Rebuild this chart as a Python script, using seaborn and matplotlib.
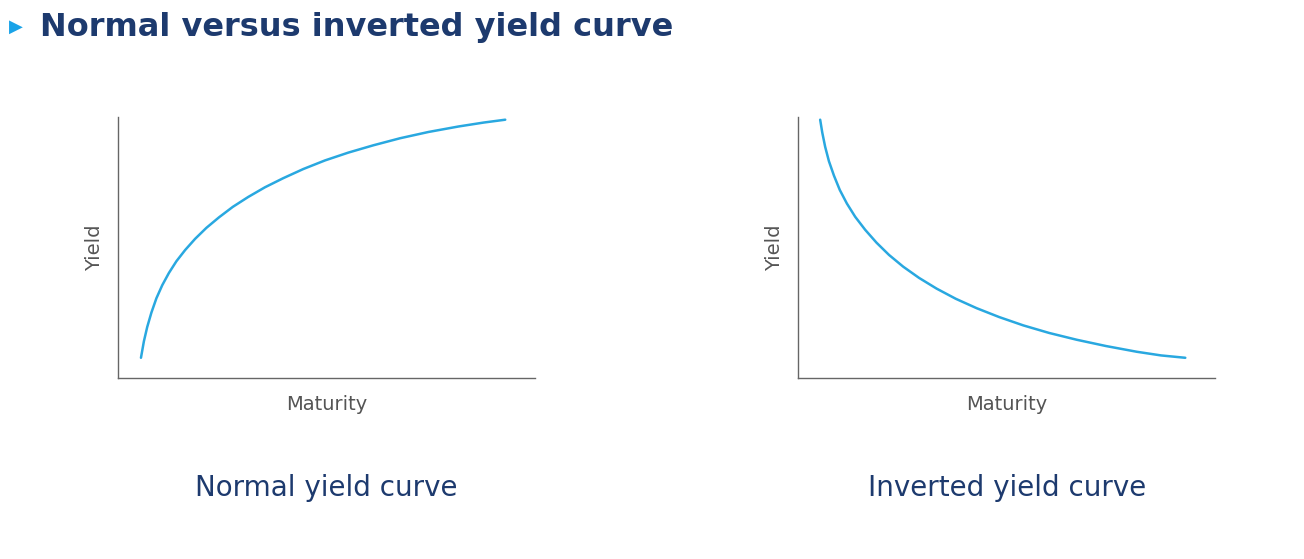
import matplotlib
matplotlib.use('Agg')
import matplotlib.pyplot as plt
import seaborn as sns

# values (0-10 scale on both axes)
normal_x = [0.55, 0.62, 0.70, 0.80, 0.92, 1.06, 1.22, 1.40, 1.61, 1.85, 2.12, 2.42,
            2.75, 3.12, 3.52, 3.96, 4.44, 4.96, 5.52, 6.12, 6.76, 7.44, 8.16, 8.76, 9.28]
normal_y = [0.77, 1.40, 1.95, 2.50, 3.05, 3.55, 4.02, 4.47, 4.90, 5.33, 5.75, 6.15,
            6.55, 6.93, 7.30, 7.65, 8.00, 8.33, 8.63, 8.91, 9.18, 9.42, 9.63, 9.78, 9.89]
inverted_x = [0.53, 0.58, 0.65, 0.74, 0.86, 1.00, 1.17, 1.37, 1.61, 1.88, 2.18, 2.52,
              2.90, 3.32, 3.78, 4.28, 4.82, 5.40, 6.02, 6.68, 7.38, 8.12, 8.70, 9.28]
inverted_y = [9.89, 9.40, 8.85, 8.30, 7.75, 7.20, 6.68, 6.17, 5.67, 5.18, 4.71, 4.26,
              3.83, 3.42, 3.03, 2.67, 2.33, 2.01, 1.72, 1.46, 1.22, 1.00, 0.86, 0.77]
captions = ['Normal yield curve', 'Inverted yield curve']

sns.set_style('white')
navy = '#1d3a6e'
blue = '#29a8e0'
grey = '#555555'

fig = plt.figure(figsize=(13.04, 5.59), dpi=100)
fig.text(0.031, 0.95, 'Normal versus inverted yield curve', fontsize=23, fontweight='bold',
         color=navy, va='center', ha='left', family='DejaVu Sans')
fig.text(0.007, 0.952, '\u25B6', fontsize=13, color='#1aa3e8', va='center', ha='left')

lefts = [0.0905, 0.612]
series = [(normal_x, normal_y), (inverted_x, inverted_y)]
for left, (xs, ys), cap in zip(lefts, series, captions):
    ax = fig.add_axes([left, 0.324, 0.32, 0.467])
    sns.lineplot(x=xs, y=ys, ax=ax, color=blue, linewidth=1.8)
    ax.set_xlim(0, 10)
    ax.set_ylim(0, 10)
    ax.set_xticks([])
    ax.set_yticks([])
    for s in ['top', 'right']:
        ax.spines[s].set_visible(False)
    for s in ['left', 'bottom']:
        ax.spines[s].set_color('#666666')
        ax.spines[s].set_linewidth(1.0)
    ax.set_xlabel('Maturity', fontsize=14, color=grey, labelpad=12)
    ax.set_ylabel('Yield', fontsize=14, color=grey, labelpad=10)
    fig.text(left + 0.16, 0.127, cap, fontsize=20, color=navy, ha='center', va='center')

fig.savefig('out.png', dpi=100)
